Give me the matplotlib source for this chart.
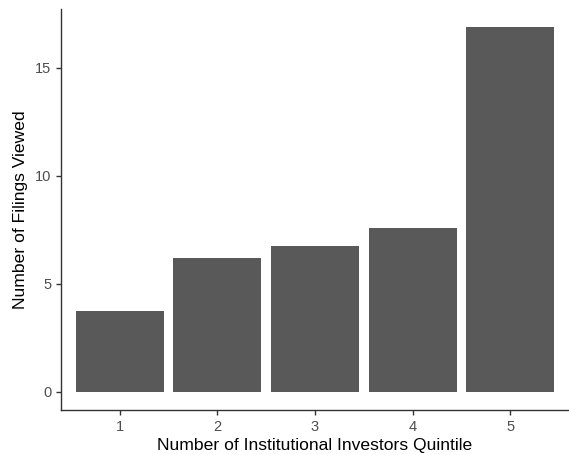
import matplotlib
matplotlib.use('Agg')
import matplotlib.pyplot as plt

quintiles = ['1', '2', '3', '4', '5']
filings_viewed = [3.75, 6.20, 6.75, 7.59, 16.87]

plt.rcParams['font.family'] = ['Liberation Sans', 'DejaVu Sans']

fig = plt.figure(figsize=(5.69, 4.55), dpi=100)
ax = fig.add_axes([61 / 569, 45 / 455, 508 / 569, 401 / 455])

pos = list(range(1, len(quintiles) + 1))
ax.bar(pos, filings_viewed, width=0.9, color='#595959')

ymax = max(filings_viewed)
ax.set_xlim(0.4, len(quintiles) + 0.6)
ax.set_ylim(-0.05 * ymax, ymax * 1.05)
ax.set_xticks(pos)
ax.set_xticklabels(quintiles)
ax.set_yticks([0, 5, 10, 15])

for s in ['top', 'right']:
    ax.spines[s].set_visible(False)
for s in ['left', 'bottom']:
    ax.spines[s].set_color('#333333')
    ax.spines[s].set_linewidth(1.0)

ax.tick_params(axis='both', colors='#333333', labelcolor='#4d4d4d',
               labelsize=10.5, length=3.5, width=1.0)
ax.set_xlabel('Number of Institutional Investors Quintile', fontsize=12.6, color='black', labelpad=3)
ax.set_ylabel('Number of Filings Viewed', fontsize=12.6, color='black', labelpad=5)

fig.savefig('out.png', dpi=100)
